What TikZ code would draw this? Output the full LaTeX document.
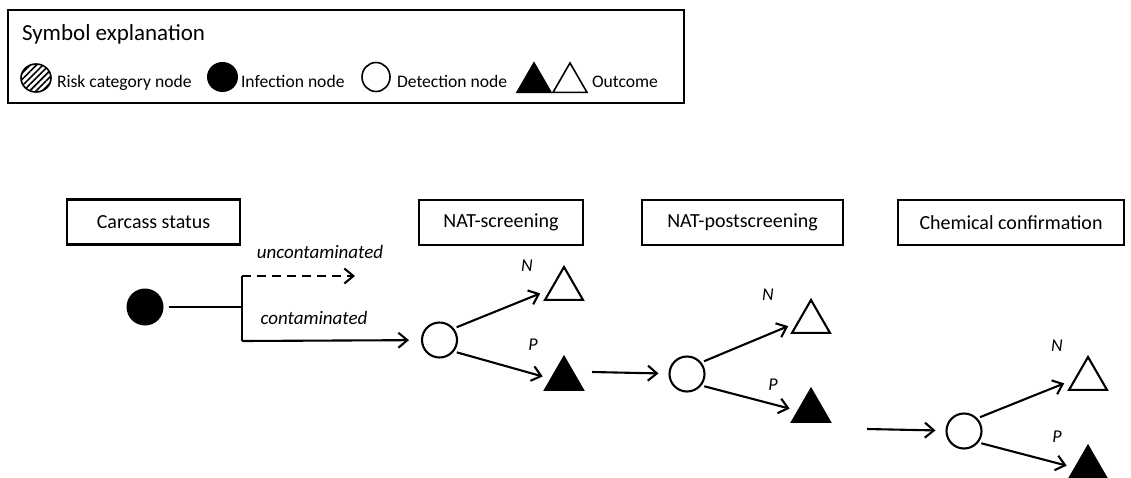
\documentclass[tikz,border=0pt]{standalone}
\usepackage{fontspec}
\setmainfont{Carlito}
\usetikzlibrary{arrows.meta,shapes.geometric,patterns.meta}
\begin{document}
\begin{tikzpicture}[x=1pt,y=-1pt,
  every node/.style={inner sep=0pt, outer sep=0pt},
  ln/.style={line width=2.1pt},
  arr/.style={ln, -{Straight Barb[length=9pt,width=15pt,line width=2.1pt]}},
  dsh/.style={dash pattern=on 9pt off 6pt},
  box/.style={draw, ln, minimum height=45pt, font=\fontsize{20}{24}\selectfont},
  infnode/.style={circle, fill=black, minimum size=37pt},
  detnode/.style={circle, draw, ln, fill=white, minimum size=35pt},
  outn/.style={regular polygon, regular polygon sides=3, draw, ln, fill=white, minimum size=43.8pt},
  outp/.style={regular polygon, regular polygon sides=3, draw, ln, fill=black, minimum size=43.8pt},
  lbl/.style={font=\itshape\fontsize{19}{22}\selectfont},
  np/.style={font=\itshape\fontsize{18}{21}\selectfont},
  legtxt/.style={anchor=base west, font=\fontsize{17.6}{21}\selectfont}
]
\useasboundingbox (0,0) rectangle (1131,477);

% legend
\node[draw, line width=1.8pt, minimum width=676pt, minimum height=93pt, anchor=north west] (legend) at (8,10) {};
\node[anchor=base west, font=\fontsize{23}{27}\selectfont] (ttl) at (22,40) {Symbol explanation};
\node[ellipse, draw, line width=1.6pt, minimum width=30pt, minimum height=28pt,
      pattern={Lines[angle=45,distance=4.5pt,line width=1.6pt]}] (lrisk) at (36,78) {};
\node[legtxt] (trisk) at (57,87) {Risk category node};
\node[ellipse, fill=black, minimum width=31pt, minimum height=30pt] (linf) at (222.5,77) {};
\node[legtxt] (tinf) at (241,87) {Infection node};
\node[ellipse, draw, line width=1.6pt, minimum width=28pt, minimum height=29pt] (ldet) at (376,77) {};
\node[legtxt] (tdet) at (397,87) {Detection node};
\node[regular polygon, regular polygon sides=3, fill=black, draw, line width=1.6pt, minimum size=39.3pt] (lpos) at (534,82.6) {};
\node[regular polygon, regular polygon sides=3, draw, line width=1.6pt, minimum size=39.3pt] (lneg) at (570,82.6) {};
\node[legtxt] (tout) at (592,87) {Outcome};

% stage boxes
\node[box, minimum width=173pt] (cs) at (153.5,222) {Carcass status};
\node[box, minimum width=164pt] (ns) at (501,222.5) {NAT-screening};
\node[box, minimum width=201pt] (nps) at (742.5,222.5) {NAT-postscreening};
\node[box, minimum width=226pt] (cc) at (1011,222.5) {Chemical confirmation};

% carcass status
\node[infnode] (inf) at (145,307) {};
\coordinate (j) at (242,307);
\coordinate (ju) at (242,276);
\coordinate (jc) at (242,341);
\coordinate (ue) at (355,276);
\draw[ln, shorten <=5pt] (inf) -- (j);
\draw[ln] (ju) -- (jc);
\draw[arr, dsh] (ju) -- (ue);
\node[lbl] (lu) at (320,252) {uncontaminated};
\node[lbl] (lc) at (314,318) {contaminated};

% NAT-screening
\node[detnode] (d1) at (439.5,340) {};
\node[outn] (n1) at (564,288.9) {};
\node[outp] (p1) at (564,378.9) {};
\draw[arr, shorten >=13pt] (jc) -- (d1);
\draw[arr, shorten <=4pt, shorten >=12pt] (d1.40) -- (n1.west);
\draw[arr, shorten <=4pt, shorten >=9pt] (d1.-40) -- (p1.west);
\node[np] (ln1) at (527,266) {N};
\node[np] (lp1) at (533,345) {P};

% NAT-postscreening
\coordinate (s2) at (592,372);
\node[detnode] (d2) at (687,374) {};
\node[outn] (n2) at (811,321.9) {};
\node[outp] (p2) at (811,410.9) {};
\draw[arr, shorten >=11pt] (s2) -- (d2);
\draw[arr, shorten <=4pt, shorten >=11pt] (d2.40) -- (n2.west);
\draw[arr, shorten <=4pt, shorten >=9pt] (d2.-40) -- (p2.west);
\node[np] (ln2) at (768,295) {N};
\node[np] (lp2) at (773,385) {P};

% Chemical confirmation
\coordinate (s3) at (867,429);
\node[detnode] (d3) at (964,431) {};
\node[outn] (n3) at (1088,378.9) {};
\node[outp] (p3) at (1088,467.9) {};
\draw[arr, shorten >=11pt] (s3) -- (d3);
\draw[arr, shorten <=4pt, shorten >=12pt] (d3.45) -- (n3.west);
\draw[arr, shorten <=4pt, shorten >=9pt] (d3.-40) -- (p3.west);
\node[np] (ln3) at (1057,346) {N};
\node[np] (lp3) at (1057,437) {P};
\end{tikzpicture}
\end{document}
